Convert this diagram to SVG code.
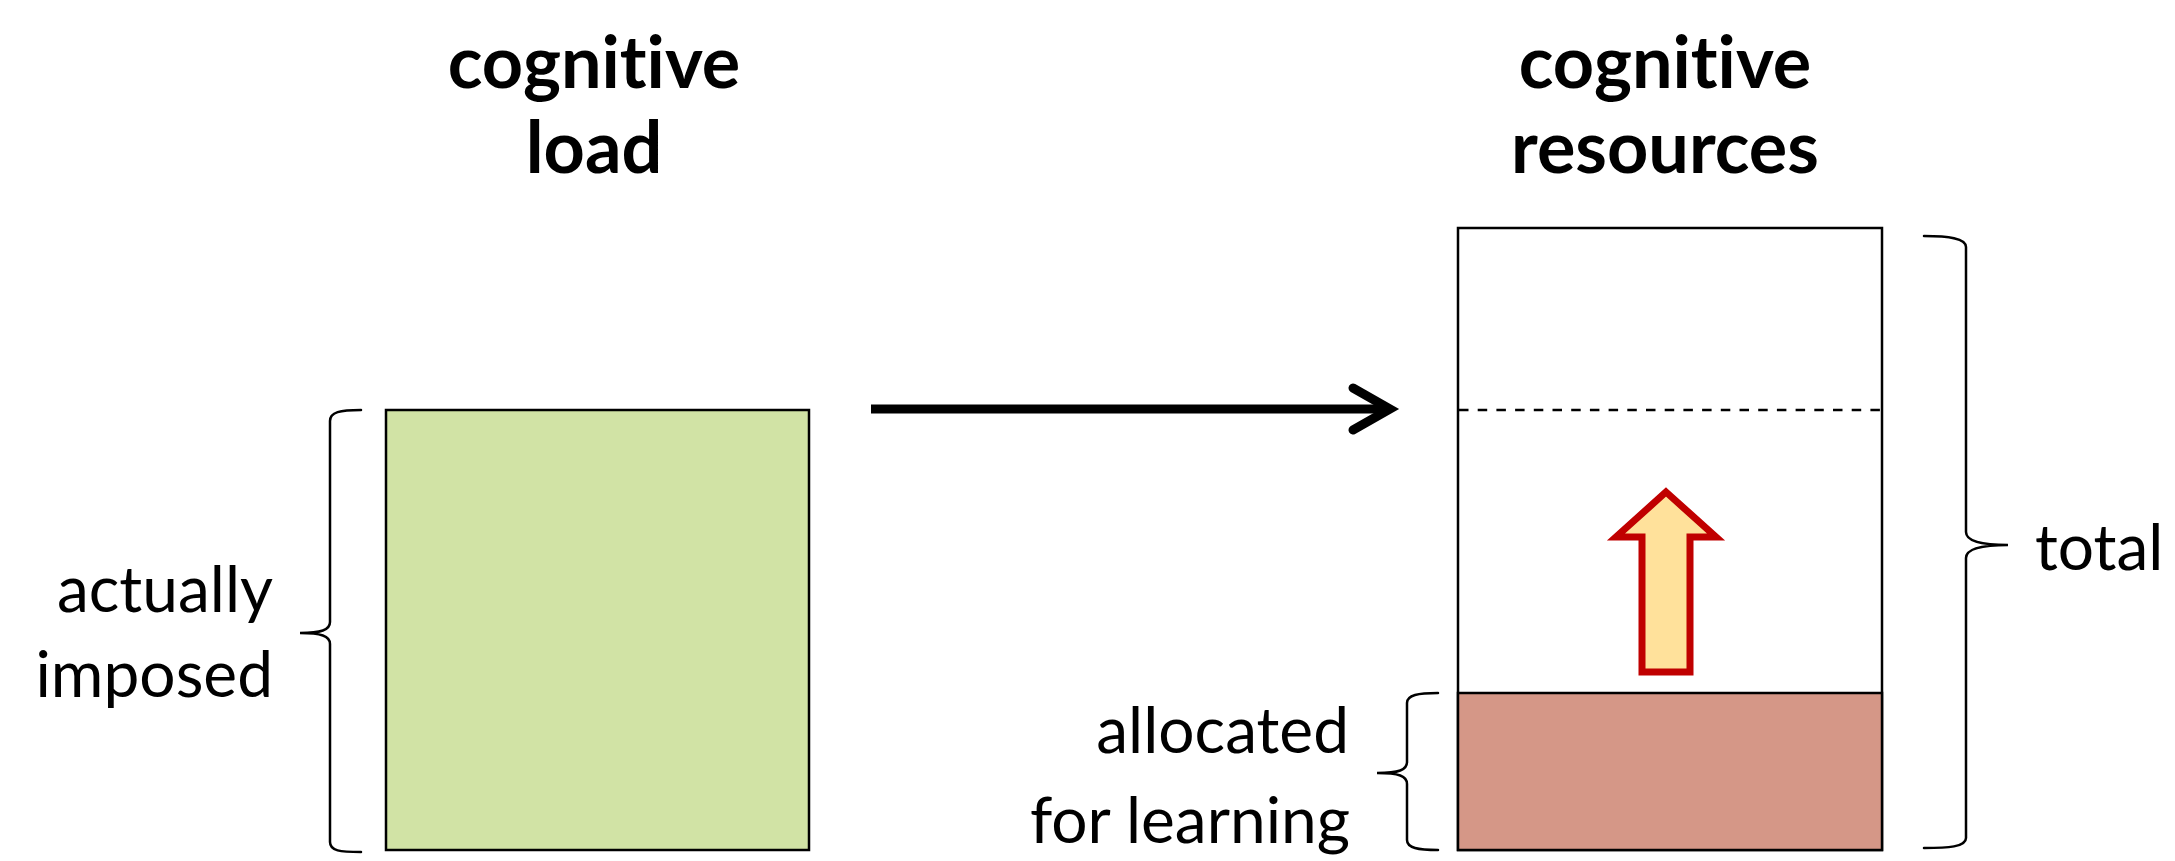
<svg xmlns="http://www.w3.org/2000/svg" width="2175" height="861" viewBox="0 0 2175 861">
  <style>
    .title { font-family: Lato, "Open Sans", sans-serif; font-weight: 700; font-size: 72px; fill: #000; text-anchor: middle; font-variant-ligatures: none; }
    .label { font-family: Lato, "Open Sans", sans-serif; font-weight: 400; font-size: 64px; fill: #000; font-variant-ligatures: none; }
    .box { stroke: #000; stroke-width: 2.5; }
    .brace { fill: none; stroke: #000; stroke-width: 2.5; stroke-linecap: round; }
  </style>

  <rect width="2175" height="861" fill="#fff"/>

  <!-- headings -->
  <g id="title-load">
    <text class="title" x="594" y="88">cognitive</text>
    <text class="title" x="594" y="173">load</text>
  </g>
  <g id="title-resources">
    <text class="title" x="1665" y="88">cognitive</text>
    <text class="title" x="1665" y="173">resources</text>
  </g>

  <!-- left block: load actually imposed -->
  <g id="load-block">
    <rect class="box" x="386" y="410" width="423" height="440" fill="#D1E3A5"/>
  </g>
  <g id="brace-imposed">
    <path class="brace" d="M361,410 C340,410 330,412 330,421 L330,622 C330,630 321,633 300,633 C321,633 330,636 330,644 L330,842 C330,851 340,852 361,852"/>
    <text class="label" x="273" y="612" text-anchor="end">actually</text>
    <text class="label" x="273" y="697" text-anchor="end">imposed</text>
  </g>

  <!-- right block: resources -->
  <g id="resources-block">
    <rect class="box" x="1458" y="228" width="424" height="622" fill="#fff"/>
    <line x1="1459" y1="410" x2="1881" y2="410" stroke="#000" stroke-width="2.5" stroke-dasharray="9.5 9.2"/>
  </g>
  <g id="allocated-block">
    <rect class="box" x="1458" y="693" width="424" height="157" fill="#D59787"/>
  </g>
  <g id="brace-allocated">
    <path class="brace" d="M1438,693 C1418,693 1407,695 1407,703 L1407,762 C1407,770 1399,773 1377,773 C1399,773 1407,776 1407,784 L1407,840 C1407,848 1418,850 1438,850"/>
    <text class="label" x="1349" y="753" text-anchor="end">allocated</text>
    <text class="label" x="1350" y="843" text-anchor="end">for learning</text>
  </g>
  <g id="brace-total">
    <path class="brace" d="M1924,236 C1948,236 1966,238 1966,247 L1966,532 C1966,541 1982,545 2008,545 C1982,545 1966,549 1966,558 L1966,838 C1966,847 1948,848 1924,848"/>
    <text class="label" x="2035" y="570">total</text>
  </g>

  <!-- growth arrow inside resources -->
  <g id="growth-arrow">
    <path d="M1666,492 L1716,537 L1690,537 L1690,672 L1642,672 L1642,537 L1616,537 Z" fill="#FFE19B" stroke="#C00000" stroke-width="7" stroke-linejoin="miter"/>
  </g>

  <!-- connectors -->
  <g id="connectors" fill="none" stroke="#000" stroke-width="9">
    <line x1="871" y1="409" x2="1386" y2="409"/>
    <polyline points="1353,388 1390,409 1353,430" stroke-linecap="round" stroke-linejoin="miter"/>
  </g>
</svg>
